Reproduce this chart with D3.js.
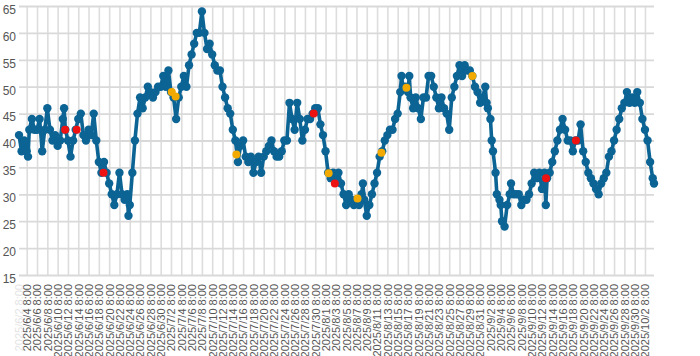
<!DOCTYPE html>
<html>
<head>
<meta charset="utf-8">
<script src="https://cdn.jsdelivr.net/npm/d3@7"></script>
<style>
  html, body { margin: 0; padding: 0; background: #fff; }
  svg { display: block; font-family: "Liberation Sans", Arial, sans-serif; }
</style>
</head>
<body>
<svg id="chart" width="700" height="356"></svg>
<script>
// ---- data (days after 2025/6/4 8:00, value) ----
const dayOffsets = [
  -1.5,-1,-0.5,0,0.25,0.5,1,1.5,2,2.5,3,3.5,4,4.5,5,5.5,6,6.5,7,7.25,7.5,8,8.5,9,9.5,10,10.5,11,11.5,12,12.5,13,13.5,14,14.5,15,15.5,16,16.5,17,17.5,18,18.5,19,19.5,19.75,20,20.5,
  21,21.5,22,22.5,23,23.5,24,24.5,25,25.5,26,26.5,27,27.5,28,28.5,29,29.5,30,30.5,31,31.5,32,32.5,33,33.5,34,34.5,35,35.5,36,36.5,37,37.5,38,38.5,39,39.5,40,40.5,
  41,41.5,42,42.5,43,43.5,44,44.5,45,45.5,46,46.5,47,47.5,48,48.5,49,49.5,50,50.5,51,51.5,52,52.5,53,53.5,54,54.5,55,55.5,56,56.5,57,57.5,58,58.5,59,59.5,60,60.5,
  61,61.5,62,62.5,63,63.5,64,64.5,65,65.25,65.5,66,66.5,67,67.5,68,68.5,69,69.5,70,70.5,71,71.5,72,72.5,72.75,73,73.5,74,74.25,74.5,75,75.5,76,76.5,77,77.5,78,78.5,79,79.5,80,80.5,
  81,81.5,82,82.5,83,83.5,84,84.5,85,85.5,86,86.5,87,87.5,88,88.5,89,89.25,89.5,90,90.25,90.5,91,91.25,91.75,92,92.25,92.75,93.25,93.75,94,94.5,95,95.5,96,96.5,97,97.5,98,98.5,99,99.5,100,100.5,100.75,
  101,101.5,102,102.5,103,103.5,104,104.5,105,105.5,106,106.5,107,107.5,108,108.5,109,109.5,110,110.5,111,111.5,112,112.5,113,113.5,114,114.5,115,115.5,116,116.5,117,117.5,118,118.5,119,119.5,120,120.5,121,121.5,121.75
];
const values = [
  41,38,40,38,37,42,44,42,42,44,38,42,46,42,40,41,39,40,44,46,42,40,37,40,42,44,45,41,40,42,41,45,40,36,34,36,34,32,30,28,30,34,30,29,30,26,28,34,
  40,45,48,46,48,50,49,48,49,50,50,52,50,53,49,48,44,48,50,52,50,54,56,58,60,60,64,60,57,58,56,54,53,53,50,48,46,45,42,40,
  36,39,40,37,36,37,34,36,37,34,37,38,39,40,38,37,37,38,40,40,47,44,42,47,44,40,42,44,44,45,46,46,43,41,38,34,33,34,33,34,
  32,30,28,30,29,28,29,28,30,32,29,26,28,30,32,34,37,38,40,41,42,42,44,45,49,52,50,50,49,52,48,46,48,46,44,48,48,52,52,50,48,46,48,
  46,45,42,48,50,52,54,52,54,53,53,52,50,49,47,48,50,47,46,44,40,38,34,30,29,28,25,24,28,30,32,30,30,30,28,29,29,30,32,34,33,34,31,34,28,
  33,34,36,38,40,42,44,42,40,40,38,40,40,43,38,36,34,33,32,31,30,32,33,34,37,38,40,42,44,46,47,49,47,48,47,49,47,44,42,40,36,33,32
];
const redDays = [7.45, 9.7, 14.9, 55.7, 59.8, 100.8, 106.6];
const redValues = [42, 42, 34, 45, 32, 33, 40];
const orangeDays = [28.15, 28.9, 40.7, 58.6, 64.2, 68.85, 73.7, 86.5];
const orangeValues = [49, 48.2, 37.4, 33.9, 29.2, 37.7, 49.8, 52];
const yTicks = [15, 20, 25, 30, 35, 40, 45, 50, 55, 60, 65];
const tickStepDays = 2;
const tickCount = 61;

// ---- setup ----
const base = new Date(2025, 5, 4, 8, 0, 0);
const toDate = d => new Date(base.getTime() + d * 86400000);
const fmt = dt => `${dt.getFullYear()}/${dt.getMonth() + 1}/${dt.getDate()} ${dt.getHours()}:${String(dt.getMinutes()).padStart(2, "0")}`;

const svg = d3.select("#chart");
const pLeft = 19, pRight = 654, pTop = 6, pBottom = 275;

const x = d3.scaleTime()
  .domain([toDate(dayOffsets[0]), toDate(dayOffsets[dayOffsets.length - 1])])
  .range([pLeft, pRight]);
const y = d3.scaleLinear().domain([15, 65]).range([pBottom, pTop]);

const tickDates = d3.range(tickCount).map(i => toDate(i * tickStepDays));

// vertical grid + x labels
const xAxis = svg.append("g")
  .attr("transform", `translate(0,${pBottom})`)
  .call(d3.axisBottom(x).tickValues(tickDates).tickSize(-(pBottom - pTop)).tickFormat(fmt));
xAxis.select(".domain").remove();
xAxis.selectAll(".tick line").attr("stroke", "#dddddd").attr("stroke-width", 1.6);
xAxis.selectAll(".tick text")
  .attr("transform", "rotate(-90)")
  .attr("text-anchor", "end")
  .attr("x", -9)
  .attr("y", 0)
  .attr("dy", "0.35em")
  .attr("fill", "#555")
  .style("font-size", "11px");

// faint partial label at the left edge
svg.append("text")
  .attr("transform", `translate(${pLeft + 0.5},${pBottom + 9}) rotate(-90)`)
  .attr("text-anchor", "end")
  .attr("dy", "0.35em")
  .attr("fill", "#e4e4e4")
  .style("font-size", "11px")
  .text(fmt(toDate(-2)));

// horizontal grid + y labels
const yAxis = svg.append("g")
  .attr("transform", `translate(${pLeft},0)`)
  .call(d3.axisLeft(y).tickValues(yTicks).tickSize(-(pRight - pLeft)).tickPadding(3));
yAxis.select(".domain").remove();
yAxis.selectAll(".tick line").attr("stroke", "#d9d9d9").attr("stroke-width", 1.8);
yAxis.selectAll(".tick text")
  .attr("y", 3.5)
  .attr("fill", "#555")
  .style("font-size", "12px");

// series
const pts = dayOffsets.map((d, i) => ({ t: toDate(d), v: values[i] }));
const mainColor = "#0c6495";
svg.append("path")
  .datum(pts)
  .attr("fill", "none")
  .attr("stroke", mainColor)
  .attr("stroke-width", 3.6)
  .attr("stroke-linejoin", "round")
  .attr("d", d3.line().x(p => x(p.t)).y(p => y(p.v)));

svg.append("g").selectAll("circle")
  .data(pts).join("circle")
  .attr("cx", p => x(p.t)).attr("cy", p => y(p.v)).attr("r", 4.2)
  .attr("fill", mainColor);

svg.append("g").selectAll("circle")
  .data(orangeDays.map((d, i) => ({ t: toDate(d), v: orangeValues[i] }))).join("circle")
  .attr("cx", p => x(p.t)).attr("cy", p => y(p.v)).attr("r", 4)
  .attr("fill", "#f2a900");

svg.append("g").selectAll("circle")
  .data(redDays.map((d, i) => ({ t: toDate(d), v: redValues[i] }))).join("circle")
  .attr("cx", p => x(p.t)).attr("cy", p => y(p.v)).attr("r", 4)
  .attr("fill", "#ee1111");
</script>
</body>
</html>
